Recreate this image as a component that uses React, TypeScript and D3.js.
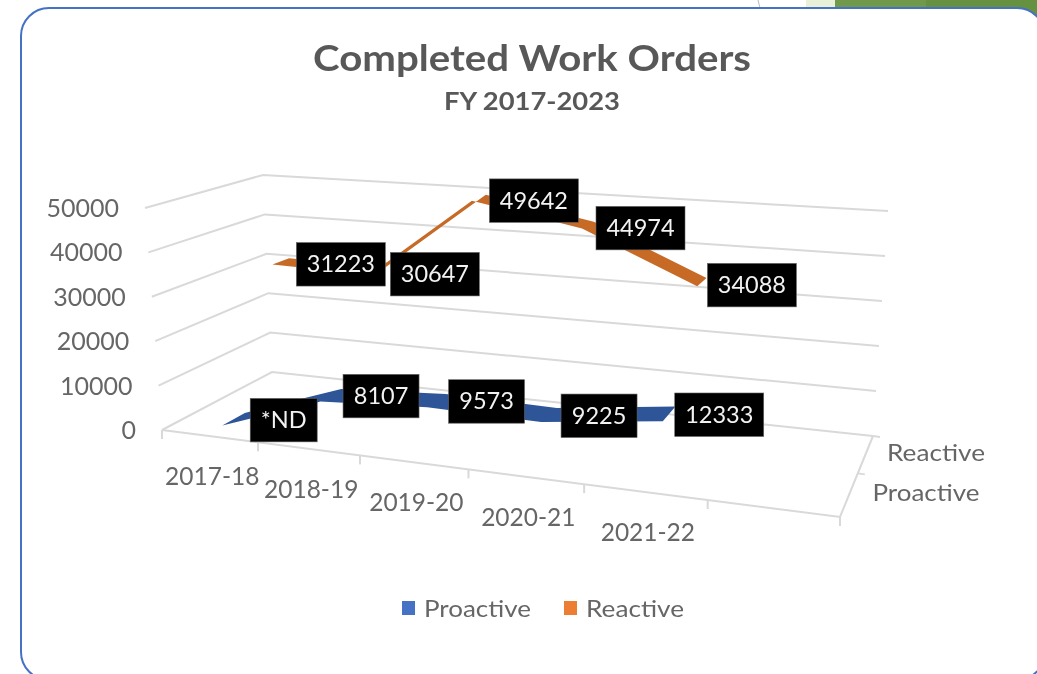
import React from "react";
import * as d3 from "d3";

const categories = ["2017-18", "2018-19", "2019-20", "2020-21", "2021-22"];
const seriesNames = ["Proactive", "Reactive"];
const proactive = [0, 8107, 9573, 9225, 12333];
const reactive = [31223, 30647, 49642, 44974, 34088];
const proactiveLabels = ["*ND", "8107", "9573", "9225", "12333"];
const reactiveLabels = ["31223", "30647", "49642", "44974", "34088"];
const valueTicks = [0, 10000, 20000, 30000, 40000, 50000];
const slotCount = 6;

type P = [number, number];
const FL: P = [162, 430], FR: P = [840, 517], BR: P = [873, 436], BL: P = [272, 372];
const upFL: P = [-17, -222], upFR: P = [8, -250], upBR: P = [15, -225], upBL: P = [-9, -197];

const sx = FL[0] - FR[0] + BR[0] - BL[0], sy = FL[1] - FR[1] + BR[1] - BL[1];
const dx1 = FR[0] - BR[0], dx2 = BL[0] - BR[0], dy1 = FR[1] - BR[1], dy2 = BL[1] - BR[1];
const det = dx1 * dy2 - dx2 * dy1;
const g = (sx * dy2 - dx2 * sy) / det, h = (dx1 * sy - sx * dy1) / det;
const a = FR[0] - FL[0] + g * FR[0], b = BL[0] - FL[0] + h * BL[0];
const d = FR[1] - FL[1] + g * FR[1], e = BL[1] - FL[1] + h * BL[1];
const heightScale = d3.scaleLinear().domain([0, 50000]).range([0, 1]);
const pointU = d3.scaleLinear().domain([0, categories.length - 1]).range([0.075, 0.76]);
const slotU = d3.scaleLinear().domain([0, slotCount]).range([0, 1]);
const reactiveLabelDx = d3.scaleLinear().domain([0, categories.length - 1]).range([60, 50]);

function project(u: number, v: number, val: number): P {
  const w = g * u + h * v + 1;
  const x = (a * u + b * v + FL[0]) / w;
  const y = (d * u + e * v + FL[1]) / w;
  const t = heightScale(val);
  const mix = (i: 0 | 1) =>
    (1 - u) * (1 - v) * upFL[i] + u * (1 - v) * upFR[i] + u * v * upBR[i] + (1 - u) * v * upBL[i];
  return [x + t * mix(0), y + t * mix(1)];
}

const line = d3.line<P>().x((p) => p[0]).y((p) => p[1]);
const font = "Lato, 'Liberation Sans', sans-serif";
const axisColor = "#666666";
const gridColor = "#d9d9d9";

function ribbon(values: number[], v0: number, v1: number) {
  const near = values.map((val, i) => project(pointU(i), v0, val));
  const far = values.map((val, i) => project(pointU(i), v1, val)).reverse();
  return line([...near, ...far]) + "Z";
}

function DataLabel({ text, at, dx, dy }: { text: string; at: P; dx: number; dy: number }) {
  const w = text.length >= 5 ? 89 : text.length === 4 ? 76 : 67;
  const ht = 43.5;
  const cx = at[0] + dx, cy = at[1] + dy;
  return (
    <g>
      <rect x={cx - w / 2} y={cy - ht / 2} width={w} height={ht} fill="#000" stroke="#666" strokeWidth={0.6} />
      <text x={cx} y={cy + 8} textAnchor="middle" fontFamily={font} fontSize={23.5} fill="#f2f2f2">{text}</text>
    </g>
  );
}

export default function App() {
  const rProj = reactive.map((val, i) => project(pointU(i), 0.75, val));
  const pProj = proactive.map((val, i) => project(pointU(i), 0.25, val));
  return (
    <svg width={1037} height={674} viewBox="0 0 1037 674" style={{ position: "fixed", left: 0, top: 0, background: "#fff" }}>
      <defs>
        <filter id="soft" x="-2%" y="-2%" width="104%" height="104%">
          <feGaussianBlur stdDeviation={0.45} />
        </filter>
      </defs>
      <rect x={0} y={0} width={1037} height={674} fill="#fff" />
      <g filter="url(#soft)">
      <path d="M806 0H837V30H806Z" fill="#e8f0d8" />
      <path d="M835 0H1037V30H835Z" fill="#70994b" />
      <path d="M926 0H1037V30H926Z" fill="#66913f" />
      <line x1={758} y1={0} x2={760} y2={8} stroke="#bbb" strokeWidth={1} />
      <rect x={21} y={8} width={1024} height={672} rx={28} ry={28} fill="#fff" stroke="#4472c4" strokeWidth={2} />

      <text x={532} y={71} textAnchor="middle" fontFamily={font} fontWeight={700} fontSize={37} fill="#595959" textLength={438} lengthAdjust="spacingAndGlyphs">Completed Work Orders</text>
      <text x={532} y={110} textAnchor="middle" fontFamily={font} fontWeight={700} fontSize={24} fill="#595959" textLength={176} lengthAdjust="spacingAndGlyphs">FY 2017-2023</text>

      {valueTicks.map((t) => {
        const pts = [project(0, 0, t), project(0, 1, t), project(1, 1, t)];
        return <path key={t} d={line(pts) as string} fill="none" stroke={gridColor} strokeWidth={2} />;
      })}
      <path d={line([project(0, 0, 0), project(1, 0, 0), project(1, 1, 0)]) as string} fill="none" stroke={gridColor} strokeWidth={2} />
      {d3.range(slotCount + 1).map((i) => {
        const [x, y] = project(slotU(i), 0, 0);
        return <line key={i} x1={x} y1={y} x2={x} y2={y + 9} stroke={gridColor} strokeWidth={2} />;
      })}
      {[0.5, 1].map((v) => {
        const [x, y] = project(1, v, 0);
        return <line key={v} x1={x} y1={y} x2={x + 7} y2={y + 1} stroke={gridColor} strokeWidth={2} />;
      })}

      <path d={ribbon(proactive, 0.15, 0.35)} fill="#2f5597" />
      <path d={ribbon(reactive, 0.67, 0.83)} fill="#c66a28" />

      {valueTicks.map((t) => {
        const [x, y] = project(0, 0, t);
        return <text key={t} x={x - 26} y={y + 9} textAnchor="end" fontFamily={font} fontSize={25} fill={axisColor}>{t}</text>;
      })}
      {categories.map((c, i) => {
        const [x, y] = project(slotU(i + 0.5), 0, 0);
        return <text key={c} x={x + 3} y={y + 49} textAnchor="middle" fontFamily={font} fontSize={24.5} fill={axisColor}>{c}</text>;
      })}

      {reactiveLabels.map((s, i) => (
        <DataLabel key={s} text={s} at={rProj[i]} dx={reactiveLabelDx(i)} dy={3} />
      ))}
      {proactiveLabels.map((s, i) => (
        <DataLabel key={s} text={s} at={pProj[i]} dx={50} dy={1} />
      ))}

      <text x={936} y={461} textAnchor="middle" fontFamily={font} fontSize={24} fill={axisColor} textLength={98} lengthAdjust="spacingAndGlyphs">{seriesNames[1]}</text>
      <text x={926} y={501} textAnchor="middle" fontFamily={font} fontSize={24} fill={axisColor} textLength={107} lengthAdjust="spacingAndGlyphs">{seriesNames[0]}</text>

      <rect x={402} y={601} width={13} height={14} fill="#4472c4" />
      <text x={424} y={617} fontFamily={font} fontSize={24} fill={axisColor} textLength={107} lengthAdjust="spacingAndGlyphs">{seriesNames[0]}</text>
      <rect x={564} y={601} width={13} height={14} fill="#ed7d31" />
      <text x={586} y={617} fontFamily={font} fontSize={24} fill={axisColor} textLength={98} lengthAdjust="spacingAndGlyphs">{seriesNames[1]}</text>
      </g>
    </svg>
  );
}
